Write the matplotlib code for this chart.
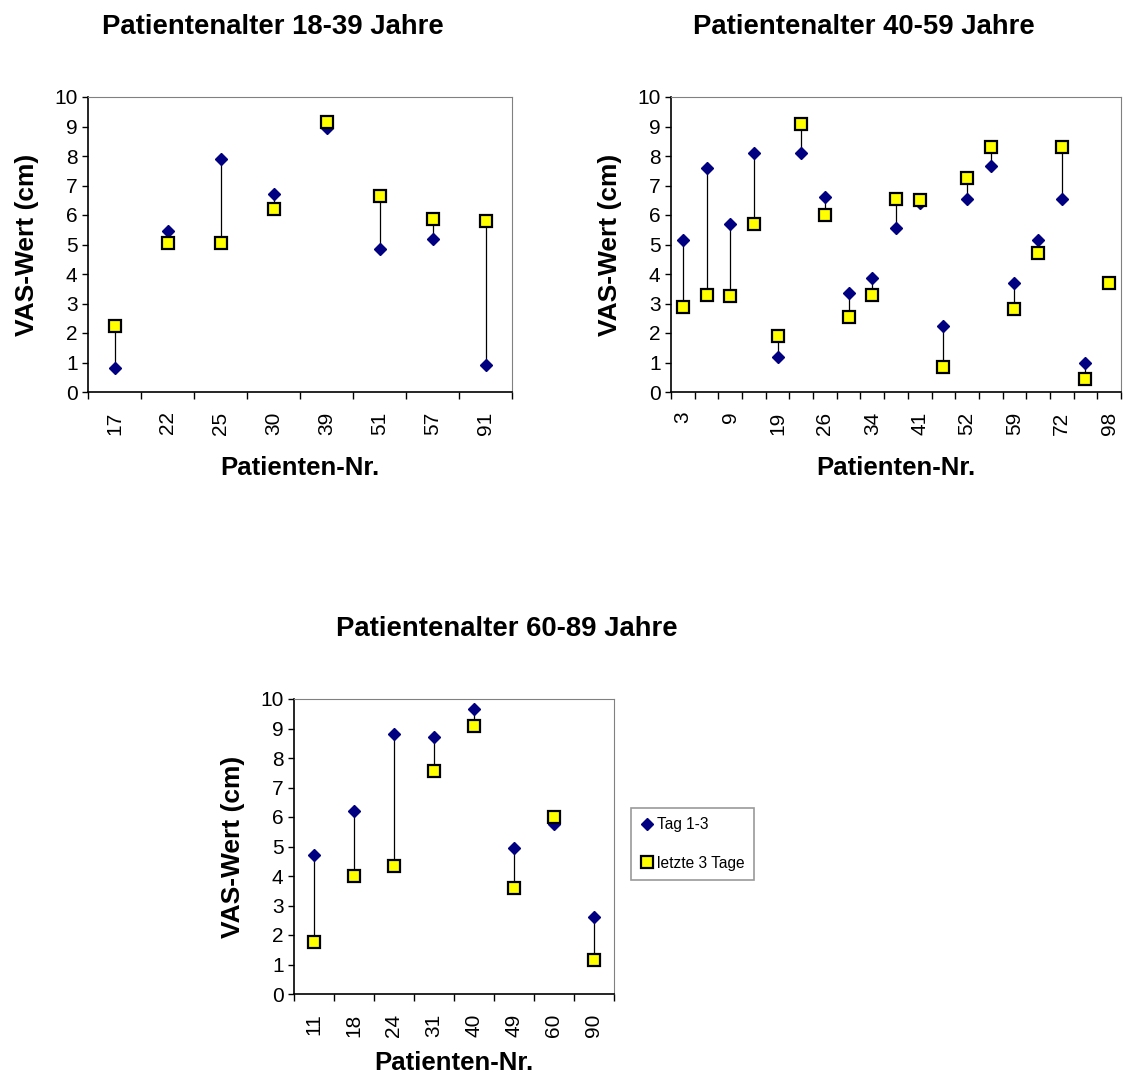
import numpy as np
import matplotlib.pyplot as plt
from matplotlib.lines import Line2D

plt.rcParams['font.family'] = ['Liberation Sans', 'DejaVu Sans']

# Altersgruppe 18-39
pat_a = ['17', '22', '25', '30', '39', '51', '57', '91']
tag13_a = [0.8, 5.45, 7.9, 6.7, 8.95, 4.85, 5.2, 0.9]
letzte_a = [2.25, 5.05, 5.05, 6.2, 9.15, 6.65, 5.85, 5.8]

# Altersgruppe 40-59 (nur jede zweite Nummer beschriftet)
pat_b = ['3', '', '9', '', '19', '', '26', '', '34', '', '41', '', '52', '', '59', '', '72', '', '98']
tag13_b = [5.15, 7.6, 5.7, 8.1, 1.2, 8.1, 6.6, 3.35, 3.85, 5.55, 6.4, 2.25, 6.55, 7.65, 3.7, 5.15, 6.55, 1.0, 3.7]
letzte_b = [2.88, 3.3, 3.25, 5.7, 1.9, 9.1, 6.0, 2.55, 3.3, 6.55, 6.5, 0.85, 7.25, 8.3, 2.8, 4.7, 8.3, 0.45, 3.7]

# Altersgruppe 60-89
pat_c = ['11', '18', '24', '31', '40', '49', '60', '90']
tag13_c = [4.7, 6.2, 8.8, 8.7, 9.65, 4.95, 5.75, 2.6]
letzte_c = [1.75, 4.0, 4.35, 7.55, 9.1, 3.6, 6.0, 1.15]

W, H = 1125, 1077
fig = plt.figure(figsize=(W / 100, H / 100), dpi=100)


def px_axes(l, t, r, b):
    return fig.add_axes([l / W, 1 - b / H, (r - l) / W, (b - t) / H])


def panel(ax, labels, y1, y2, title, title_x, xlpad=15):
    n = len(labels)
    x = np.arange(n)
    # Verbindungslinien zwischen Anfangs- und Endwert
    ax.vlines(x, np.minimum(y1, y2), np.maximum(y1, y2), color='black', lw=0.9, zorder=2)
    ax.plot(x, y1, ls='none', marker='D', ms=6.4, color='#000080', mec='#000080', zorder=3)
    ax.plot(x, y2, ls='none', marker='s', ms=8.2, mfc='#FFFF00', mec='black', mew=1.6, zorder=4)
    ax.set_xlim(-0.5, n - 0.5)
    ax.set_ylim(0, 10)
    ax.set_yticks(range(0, 11))
    ax.set_xticks(x)
    ax.set_xticklabels(labels, rotation=90)
    ax.set_xticks(np.arange(n + 1) - 0.5, minor=True)
    ax.tick_params(axis='x', which='major', length=0, pad=14, labelsize=15)
    ax.tick_params(axis='x', which='minor', length=5, width=1, direction='out')
    ax.tick_params(axis='y', length=4.5, width=1, direction='out', labelsize=15, pad=3)
    for s in ('top', 'right'):
        ax.spines[s].set_color('#808080')
    for s in ('left', 'bottom'):
        ax.spines[s].set_linewidth(1.2)
    ax.set_ylabel('VAS-Wert (cm)', fontsize=19, fontweight='bold', labelpad=11)
    ax.set_xlabel('Patienten-Nr.', fontsize=18.5, fontweight='bold', labelpad=xlpad)
    ax.set_title(title, fontsize=19.8, fontweight='bold', pad=45, x=title_x)


ax1 = px_axes(88, 97, 512, 392)
panel(ax1, pat_a, tag13_a, letzte_a, 'Patientenalter 18-39 Jahre', 0.436)

ax2 = px_axes(671, 97, 1121, 392)
panel(ax2, pat_b, tag13_b, letzte_b, 'Patientenalter 40-59 Jahre', 0.429)

ax3 = px_axes(294, 699, 614, 994)
panel(ax3, pat_c, tag13_c, letzte_c, 'Patientenalter 60-89 Jahre', 0.666, xlpad=10)

handles = [
    Line2D([], [], ls='none', marker='D', ms=6.4, color='#000080'),
    Line2D([], [], ls='none', marker='s', ms=8.2, mfc='#FFFF00', mec='black', mew=1.6),
]
leg = fig.legend(handles, ['Tag 1-3', 'letzte 3 Tage'],
                 loc='upper left', bbox_to_anchor=(631 / W, 1 - 808 / H),
                 fontsize=11.2, frameon=True, fancybox=False, borderpad=0.6,
                 handletextpad=0.15, handlelength=0.9, labelspacing=1.5, borderaxespad=0)
leg.get_frame().set_edgecolor('#808080')
leg.get_frame().set_linewidth(1.2)

fig.savefig('out.png', dpi=100)
